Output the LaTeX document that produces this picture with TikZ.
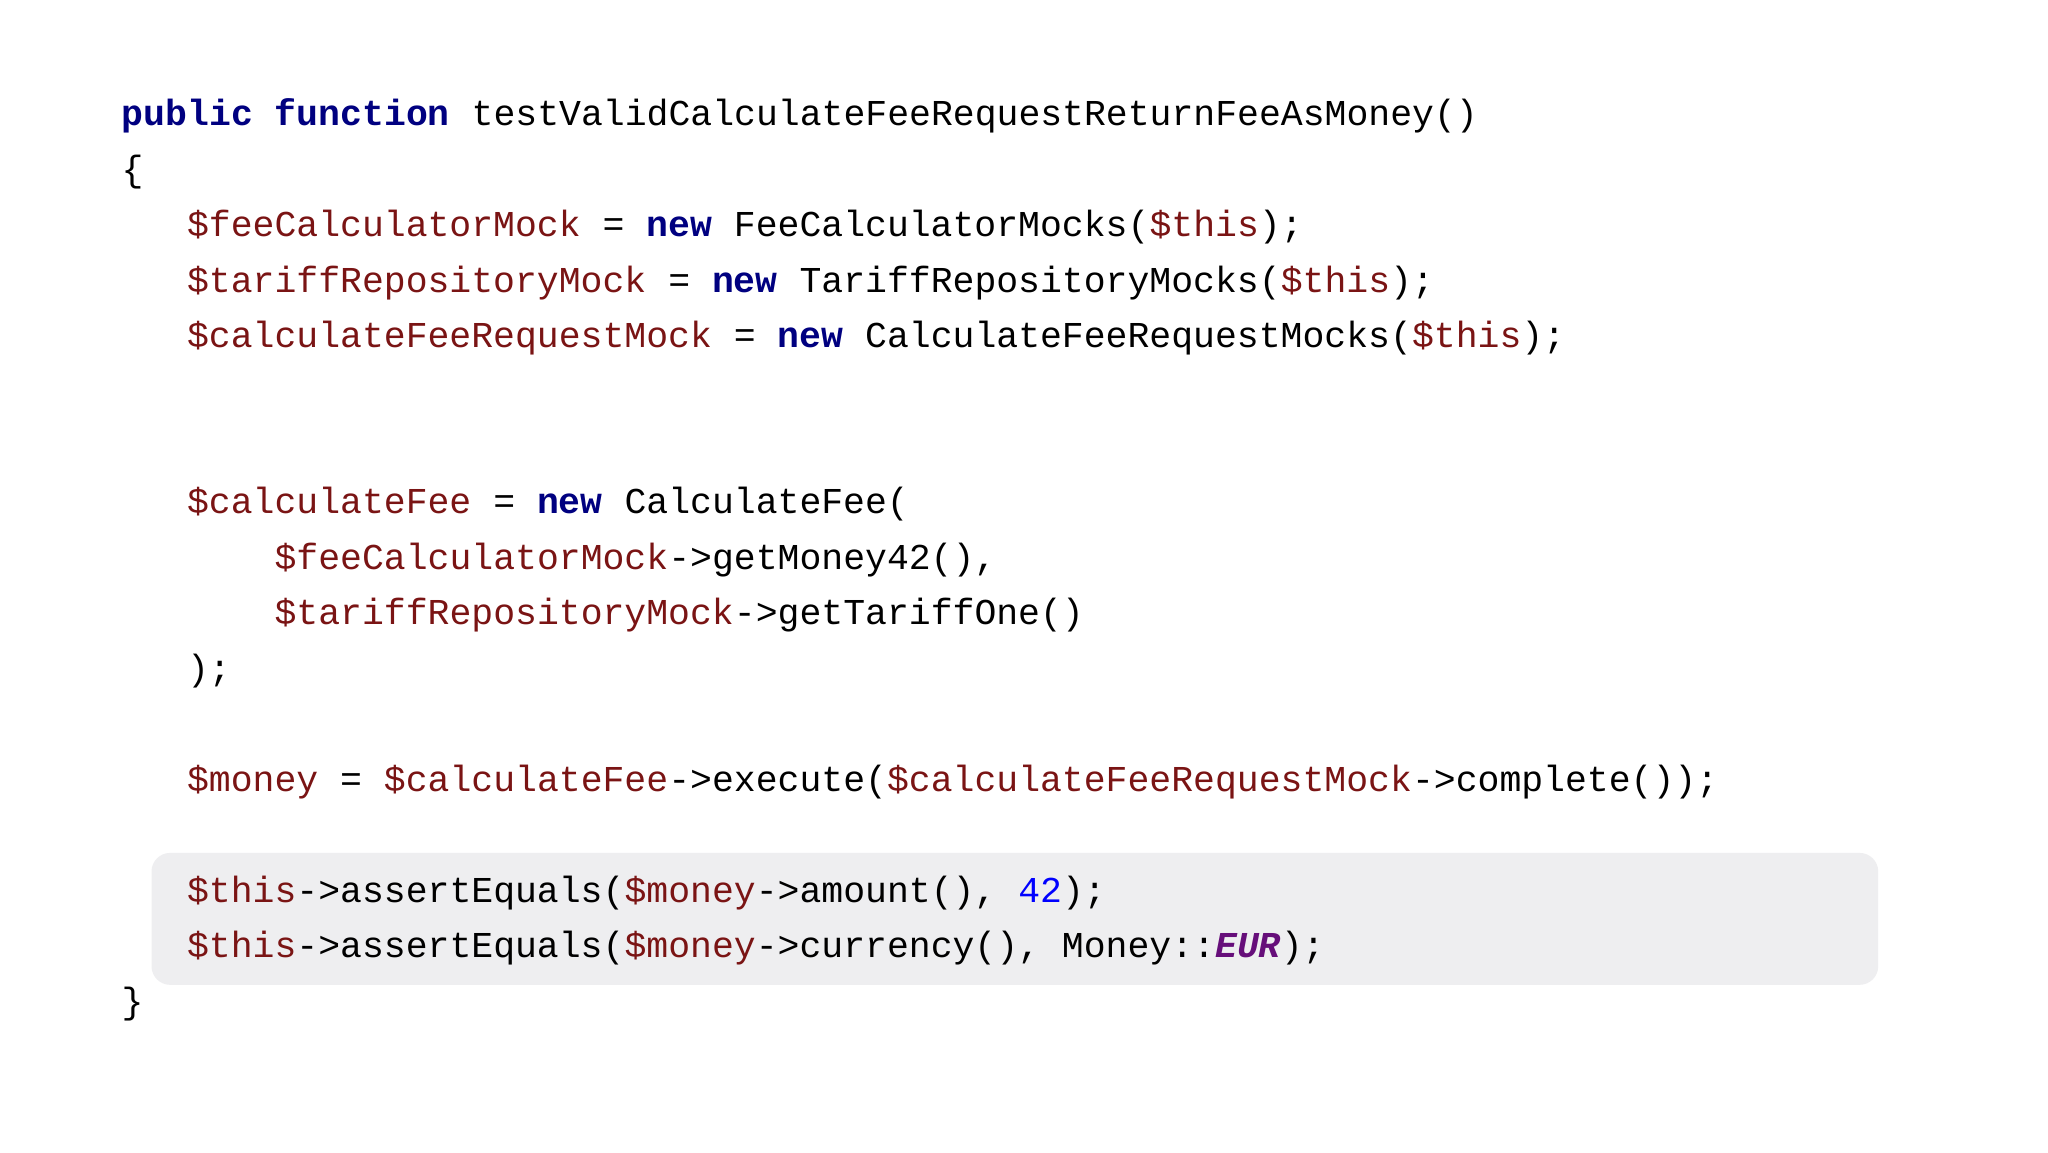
\documentclass[tikz,border=0pt]{standalone}
\usepackage{fontspec}
\newfontfamily\code{Liberation Mono}
\definecolor{kw}{HTML}{000080}
\definecolor{vr}{HTML}{7A1414}
\definecolor{nm}{HTML}{0000FF}
\definecolor{cst}{HTML}{660E7A}
\definecolor{hl}{HTML}{EEEEF0}
\newcommand{\K}[1]{\textcolor{kw}{\bfseries #1}}
\newcommand{\Vr}[1]{\textcolor{vr}{#1}}
\tikzset{ln/.style={anchor=base west,inner sep=0pt,font=\code\fontsize{27.35}{30}\selectfont,text=black}}
\begin{document}
\begin{tikzpicture}[x=0.98pt,y=-0.98pt]
\useasboundingbox[fill=white] (0,0) rectangle (1568,882);
\fill[hl,rounded corners=14] (116,653) rectangle (1438,754);
\node[ln] (l1) at (93,96) {\K{public} \K{function} testValidCalculateFeeRequestReturnFeeAsMoney()};
\node[ln] (l2) at (93,139) {\{};
\node[ln] (l3) at (143,181) {\Vr{\$feeCalculatorMock} = \K{new} FeeCalculatorMocks(\Vr{\$this});};
\node[ln] (l4) at (143,224) {\Vr{\$tariffRepositoryMock} = \K{new} TariffRepositoryMocks(\Vr{\$this});};
\node[ln] (l5) at (143,266) {\Vr{\$calculateFeeRequestMock} = \K{new} CalculateFeeRequestMocks(\Vr{\$this});};
\node[ln] (l6) at (143,393) {\Vr{\$calculateFee} = \K{new} CalculateFee(};
\node[ln] (l7) at (210,436) {\Vr{\$feeCalculatorMock}->getMoney42(),};
\node[ln] (l8) at (210,478) {\Vr{\$tariffRepositoryMock}->getTariffOne()};
\node[ln] (l9) at (143,521) {);};
\node[ln] (l10) at (143,606) {\Vr{\$money} = \Vr{\$calculateFee}->execute(\Vr{\$calculateFeeRequestMock}->complete());};
\node[ln] (l11) at (143,691) {\Vr{\$this}->assertEquals(\Vr{\$money}->amount(), \textcolor{nm}{42});};
\node[ln] (l12) at (143,733) {\Vr{\$this}->assertEquals(\Vr{\$money}->currency(), Money::\textcolor{cst}{\bfseries\itshape EUR});};
\node[ln] (l13) at (93,776) {\}};
\end{tikzpicture}
\end{document}
